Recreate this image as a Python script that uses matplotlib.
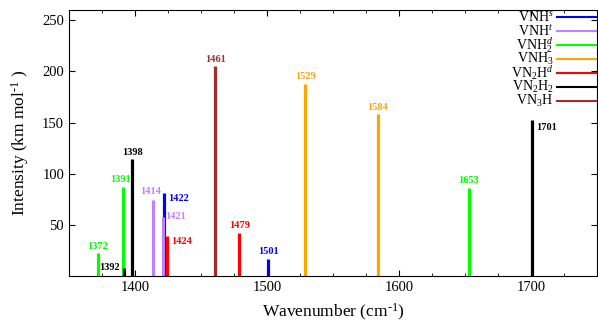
import matplotlib
matplotlib.use("Agg")
import matplotlib.pyplot as plt
from matplotlib.ticker import MultipleLocator

plt.rcParams['font.family'] = ['Liberation Serif', 'DejaVu Serif']
plt.rcParams['mathtext.fontset'] = 'custom'
plt.rcParams['mathtext.rm'] = 'Liberation Serif'
plt.rcParams['mathtext.it'] = 'Liberation Serif:italic'
plt.rcParams['mathtext.default'] = 'regular'

# frequencies (cm-1) and intensities (km/mol) per species
vnh_s_freq = [1422, 1501]
vnh_s_int = [81, 17]
vnh_t_freq = [1414, 1421]
vnh_t_int = [74, 58]
vnh2_d_freq = [1372, 1391, 1653]
vnh2_d_int = [22, 87, 86]
vnh3_freq = [1529, 1584]
vnh3_int = [188, 158]
vn2h_d_freq = [1424, 1479]
vn2h_d_int = [39, 42]
vn2h2_freq = [1392, 1398, 1701]
vn2h2_int = [8, 114, 153]
vn3h_freq = [1461]
vn3h_int = [205]

species = [
    ('VNH$^\\mathit{s}$', '#0000ff', vnh_s_freq, vnh_s_int),
    ('VNH$^\\mathit{t}$', '#c080ff', vnh_t_freq, vnh_t_int),
    ('VNH$_2^\\mathit{d}$', '#00ff00', vnh2_d_freq, vnh2_d_int),
    ('VNH$_3$', '#ffa500', vnh3_freq, vnh3_int),
    ('VN$_2$H$^\\mathit{d}$', '#ff0000', vn2h_d_freq, vn2h_d_int),
    ('VN$_2$H$_2$', '#000000', vn2h2_freq, vn2h2_int),
    ('VN$_3$H', '#a52a2a', vn3h_freq, vn3h_int),
]

# where each peak label sits relative to its bar top: (ha, va, dx pt, dy pt)
label_place = {
    1391: ('center', 'bottom', -2, 2),
    1392: ('right', 'center', -3, 0),
    1414: ('center', 'center', -2, 6),
    1421: ('left', 'center', 2, 0),
    1422: ('left', 'center', 3, -4),
    1424: ('left', 'center', 3, -4),
    1701: ('left', 'center', 3, -6),
}

fig = plt.figure(figsize=(5.98, 3.27), dpi=100)
ax = fig.add_axes([0.1154, 0.156, 0.8826, 0.813])

for name, col, fr, it in species:
    ax.vlines(fr, 0, it, colors=col, lw=2.3)
    for f, v in zip(fr, it):
        ha, va, dx, dy = label_place.get(f, ('center', 'bottom', 0, 2))
        ax.annotate(str(f), (f, v), xytext=(dx, dy), textcoords='offset points',
                    ha=ha, va=va, color=col, fontsize=7.5, fontweight='bold')

# legend drawn like gnuplot's: right-aligned key text, then a line sample
for i, (name, col, fr, it) in enumerate(species):
    yy = (276 - (17 + 14 * i)) / 266
    ax.text(0.918, yy, name, transform=ax.transAxes, ha='right', va='center', fontsize=10)
    ax.plot([0.924, 1.02], [yy, yy], transform=ax.transAxes, color=col, lw=1.5, clip_on=False)

ax.set_xlim(1350, 1750)
ax.set_ylim(0, 260)
ax.xaxis.set_major_locator(MultipleLocator(100))
ax.xaxis.set_minor_locator(MultipleLocator(25))
ax.set_yticks([50, 100, 150, 200, 250])
ax.tick_params(which='both', direction='in', top=True, right=True, labelsize=10.5)
ax.tick_params(which='major', length=4)
ax.tick_params(which='minor', length=2)
ax.set_xlabel('Wavenumber (cm$^{\\text{-}1}$)', fontsize=12.5, labelpad=6)
ax.set_ylabel('Intensity (km mol$^{\\text{-}1}$ )', fontsize=12.5, labelpad=8)

fig.savefig('out.png', dpi=100)
